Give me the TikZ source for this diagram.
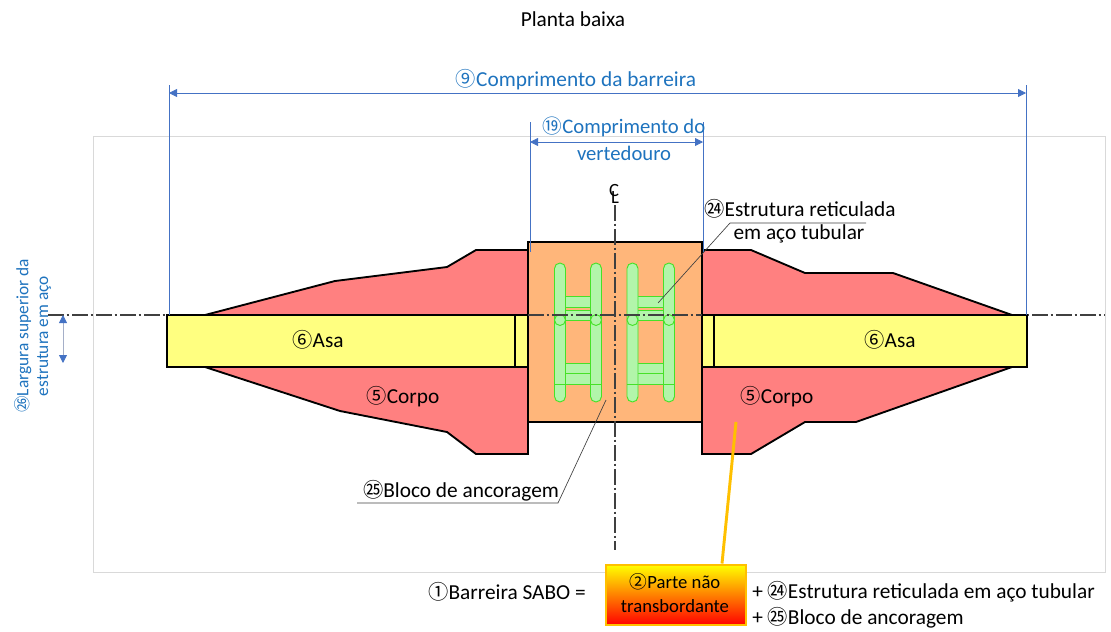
\documentclass[tikz,border=0pt]{standalone}
\usepackage{fontspec}
\usetikzlibrary{arrows.meta}
\setmainfont{Carlito}
\newfontfamily\cjk[Scale=0.95]{Noto Sans CJK JP}
\newcommand{\cnum}[1]{{\cjk #1}}
\definecolor{dimblue}{RGB}{68,114,196}
\definecolor{dimgrey}{RGB}{165,175,200}
\definecolor{txtblue}{RGB}{30,115,190}
\definecolor{bodyred}{RGB}{255,128,128}
\definecolor{wingyellow}{RGB}{255,255,128}
\definecolor{blockorange}{RGB}{255,182,122}
\definecolor{tubegreen}{RGB}{178,245,170}
\definecolor{tubeedge}{RGB}{70,225,40}
\definecolor{goldline}{RGB}{255,192,0}
\begin{document}
\begin{tikzpicture}[x=0.75pt,y=-0.75pt]

    \tikzset{
      label/.style={
        anchor=center,
        inner sep=0pt,
        font=\fontsize{16}{18}\selectfont,
      },
      dimlabel/.style={
        label,
        text=txtblue,
      },
      outline/.style={
        draw=black,
        line width=1.4pt,
        line join=miter,
      },
      tube/.style={
        draw=tubeedge,
        fill=tubegreen,
        line width=0.7pt,
      },
      dimline/.style={
        color=dimblue,
        line width=0.6pt,
      },
      dimtip/.style={
        {Triangle[length=6pt,width=6pt,color=dimblue]}-{Triangle[length=6pt,width=6pt,color=dimblue]},
      },
      leader/.style={
        color=black!75,
        line width=0.5pt,
      },
      axis/.style={
        color=black!75,
        line width=0.8pt,
        dash pattern=on 12pt off 2pt on 2pt off 2pt,
      },
    }
    \useasboundingbox (0,0) rectangle (1111,632);
    \draw [color=black!15,line width=0.6pt] (93,136) rectangle (1105,572);
    \draw [axis] (48,315)--(1105,315);

    % corpo
    \draw [outline,fill=bodyred] (205,315)--(335,281)--(447,267)--(476,250)--(528,250)--(528,315)--cycle;
    \draw [outline,fill=bodyred] (205,367)--(340,411)--(447,432)--(476,454)--(528,454)--(528,367)--cycle;
    \draw [outline,fill=bodyred] (702,250)--(751,250)--(805,273)--(893,273)--(1012,315)--(702,315)--cycle;
    \draw [outline,fill=bodyred] (702,367)--(1012,367)--(856,422)--(805,422)--(751,454)--(702,454)--cycle;

    % asa
    \draw [outline,fill=wingyellow] (167,315) rectangle (1027,367);
    \draw [outline] (515,315)--(515,367);
    \draw [outline] (714,315)--(714,367);

    % bloco
    \draw [outline,fill=blockorange] (528,242) rectangle (702,422);

    % estrutura
    \foreach \xa/\xb in {560/596,632.5/669}{
      \foreach \ya/\yb in {296/307,310/320,363/373,373/384}{
        \draw [tube] (\xa,\ya) rectangle (\xb,\yb);
      }
      \foreach \xc in {\xa,\xb}{
        \draw [tube,rounded corners=4.1pt] (\xc-5.5,263) rectangle (\xc+5.5,402);
        \draw [tube] (\xc,320) circle (5.5);
        \draw [tube] (\xc-5.5,384)--(\xc+5.5,384);
      }
    }

    % eixos
    \draw [axis] (528,315)--(702,315);
    \draw [axis] (615,205)--(615,550);
    \node [label,font=\fontsize{14}{16}\selectfont] (cl1) at (614,191) {C};
    \node [label,font=\fontsize{14}{16}\selectfont] (cl2) at (615,198) {L};

    % cotas
    \coordinate (ba) at (169,93);
    \coordinate (bb) at (1026,93);
    \coordinate (va) at (530,142);
    \coordinate (vb) at (703,142);
    \coordinate (la) at (63,315);
    \coordinate (lb) at (63,363);
    \draw [dimline] (169,85)--(169,315);
    \draw [dimline] (1026,85)--(1026,315);
    \draw [dimline] (530,122)--(530,252);
    \draw [dimline] (703,122)--(703,252);
    \draw [dimline,dimtip] (ba)--(bb);
    \draw [dimline,dimtip] (va)--(vb);
    \draw [dimline,dimtip,color=dimgrey] (la)--(lb);
    \node [label] (title) at (573,19) {Planta baixa};
    \node [dimlabel] (bcomp) at (576,80) {\cnum{⑨}Comprimento da barreira};
    \node [dimlabel,font=\fontsize{15.5}{18}\selectfont] (vcomp) at (624,127) {\cnum{⑲}Comprimento do};
    \node [dimlabel,font=\fontsize{15.5}{18}\selectfont] (vcomp2) at (624,153) {vertedouro};
    \node [dimlabel,rotate=90,font=\fontsize{13}{15}\selectfont] (larg) at (23,336) {\cnum{㉖}Largura superior da};
    \node [dimlabel,rotate=90,font=\fontsize{13}{15}\selectfont] (larg2) at (44,336) {estrutura em aço};

    % rotulos
    \node [label] (asa1) at (318,340) {\cnum{⑥}Asa};
    \node [label] (asa2) at (890,340) {\cnum{⑥}Asa};
    \node [label] (corpo1) at (403,397) {\cnum{⑤}Corpo};
    \node [label] (corpo2) at (777,397) {\cnum{⑤}Corpo};
    \node [label] (est1) at (800,209) {\cnum{㉔}Estrutura reticulada};
    \node [label] (est2) at (799,234) {em aço tubular};
    \node [label] (blo) at (461,491) {\cnum{㉕}Bloco de ancoragem};
    \coordinate (esta) at (658,303);
    \coordinate (estb) at (730,223);
    \coordinate (estc) at (866,223);
    \coordinate (bloa) at (606,400);
    \coordinate (blob) at (558,503);
    \coordinate (bloc) at (357,503);
    \draw [leader] (esta)--(estb)--(estc);
    \draw [leader] (bloa)--(blob)--(bloc);

    % formula
    \coordinate (corpoend) at (736,422);
    \node [draw=goldline,line width=2.2pt,top color=yellow,bottom color=red,minimum width=140pt*0.75,minimum height=60pt*0.75,inner sep=0pt] (parte) at (676,595) {};
    \draw [color=goldline,line width=2.2pt] (corpoend)--(parte.north -| 722,0);
    \node [label,font=\fontsize{14}{16}\selectfont] (parte1) at (675,582) {\cnum{②}Parte não};
    \node [label,font=\fontsize{14}{16}\selectfont] (parte2) at (675,606) {transbordante};
    \node [label] (sabo) at (507,592) {\cnum{①}Barreira SABO =};
    \node [label,anchor=west] (mais1) at (752,592) {+ \cnum{㉔}Estrutura reticulada em aço tubular};
    \node [label,anchor=west] (mais2) at (752,618) {+ \cnum{㉕}Bloco de ancoragem};

\end{tikzpicture}
\end{document}
